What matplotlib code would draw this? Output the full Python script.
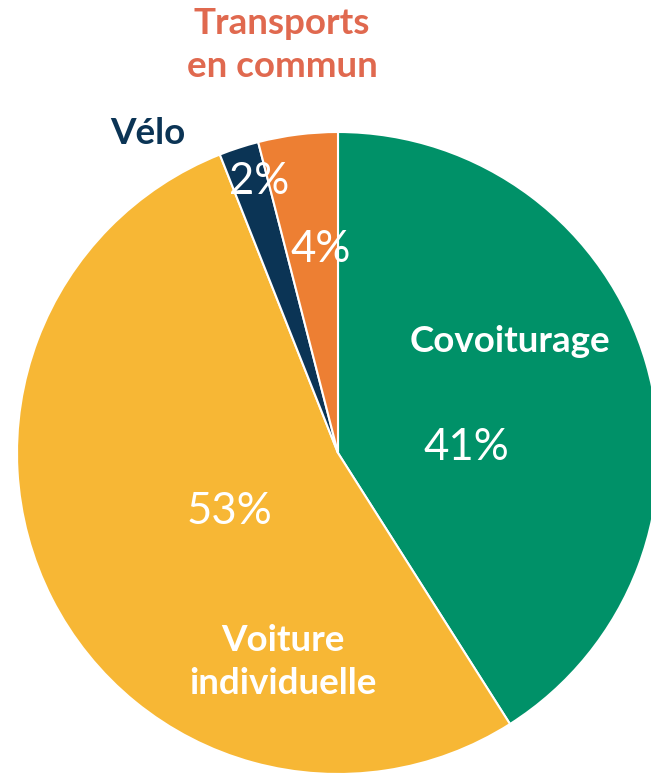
import matplotlib.pyplot as plt

labels = ["Covoiturage", "Voiture individuelle", "Vélo", "Transports en commun"]
values = [41, 53, 2, 4]
colors = ["#009168", "#F7B735", "#0B3455", "#ED7F33"]

W, H = 651, 776
fig = plt.figure(figsize=(W / 100, H / 100), dpi=100)
ax = fig.add_axes([0, 0, 1, 1])

ax.pie(values, colors=colors, startangle=90, counterclock=False,
       center=(338, H - 453), radius=321,
       wedgeprops=dict(edgecolor="white", linewidth=1.5))
ax.set_xlim(0, W)
ax.set_ylim(0, H)
ax.set_aspect("equal")
ax.axis("off")

def px(x, y):
    return x, H - y

lab_font = dict(family="Lato", weight="bold", fontsize=26.5, ha="center", va="center", linespacing=1.38)
pct_font = dict(family="Lato", fontsize=31.5, color="white", ha="center", va="center")

ax.text(*px(510, 342), "Covoiturage", color="white", **lab_font)
ax.text(*px(283, 662), "Voiture\nindividuelle", color="white", **lab_font)
ax.text(*px(148, 133), "Vélo", color="#0B3455", **lab_font)
ax.text(*px(282, 45), "Transports\nen commun", color="#E0694F", **lab_font)

ax.text(*px(466, 447), f"{values[0]}%", **pct_font)
ax.text(*px(229, 511), f"{values[1]}%", **pct_font)
ax.text(*px(259, 181), f"{values[2]}%", **pct_font)
ax.text(*px(321, 250), f"{values[3]}%", **pct_font)

fig.savefig("out.png", dpi=100)
